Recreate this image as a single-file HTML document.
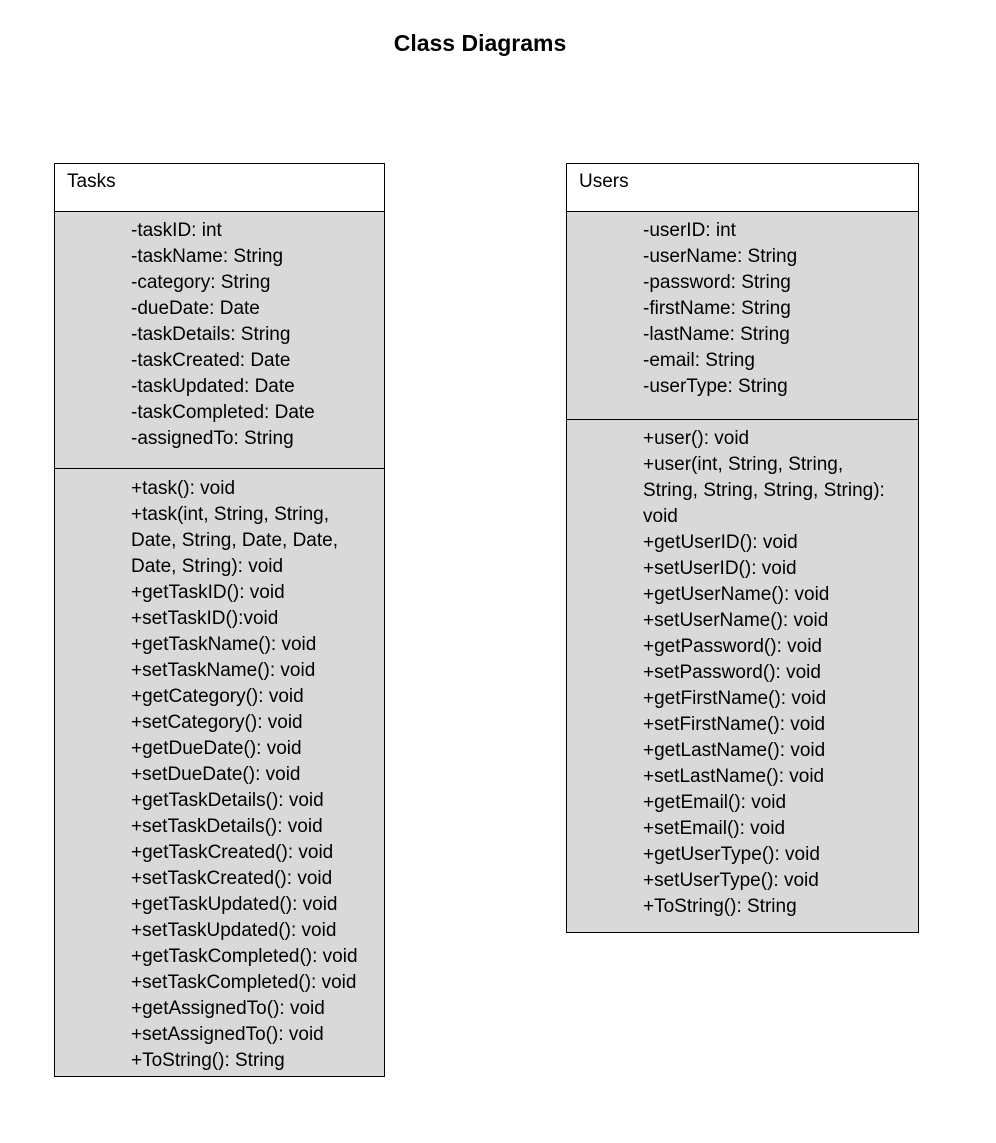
<!DOCTYPE html>
<html><head><meta charset="utf-8"><style>
body{margin:0;width:996px;height:1143px;background:#fff;position:relative;font-family:"Liberation Sans",sans-serif;overflow:hidden}
.t{position:absolute;left:0;width:960px;text-align:center;top:30px;font-weight:bold;font-size:23px;color:#000}
.box{position:absolute;border:1px solid #000;box-sizing:border-box;background:#fff}
.sec{position:absolute;left:0;right:0;background:#d9d9d9;box-sizing:border-box;overflow:hidden}
.hd{position:absolute;font-size:19px;color:#000}
.lines{position:absolute;font-size:19px;line-height:26px;color:#000;white-space:pre}
</style></head><body>
<div class="t">Class Diagrams</div>

<div class="box" style="left:54px;top:163px;width:331px;height:914px">
<div class="hd" style="left:12px;top:7px">Tasks</div>
<div class="sec" style="top:47px;height:258px;border-top:1px solid #000;border-bottom:1px solid #000">
<div class="lines" style="left:76px;top:6px">-taskID: int
-taskName: String
-category: String
-dueDate: Date
-taskDetails: String
-taskCreated: Date
-taskUpdated: Date
-taskCompleted: Date
-assignedTo: String</div></div>
<div class="sec" style="top:305px;bottom:0">
<div class="lines" style="left:76px;top:7px">+task(): void
+task(int, String, String,
Date, String, Date, Date,
Date, String): void
+getTaskID(): void
+setTaskID():void
+getTaskName(): void
+setTaskName(): void
+getCategory(): void
+setCategory(): void
+getDueDate(): void
+setDueDate(): void
+getTaskDetails(): void
+setTaskDetails(): void
+getTaskCreated(): void
+setTaskCreated(): void
+getTaskUpdated(): void
+setTaskUpdated(): void
+getTaskCompleted(): void
+setTaskCompleted(): void
+getAssignedTo(): void
+setAssignedTo(): void
+ToString(): String</div></div>
</div>

<div class="box" style="left:566px;top:163px;width:353px;height:770px">
<div class="hd" style="left:12px;top:7px">Users</div>
<div class="sec" style="top:47px;height:209px;border-top:1px solid #000;border-bottom:1px solid #000">
<div class="lines" style="left:76px;top:6px">-userID: int
-userName: String
-password: String
-firstName: String
-lastName: String
-email: String
-userType: String</div></div>
<div class="sec" style="top:256px;bottom:0">
<div class="lines" style="left:76px;top:6px">+user(): void
+user(int, String, String,
String, String, String, String):
void
+getUserID(): void
+setUserID(): void
+getUserName(): void
+setUserName(): void
+getPassword(): void
+setPassword(): void
+getFirstName(): void
+setFirstName(): void
+getLastName(): void
+setLastName(): void
+getEmail(): void
+setEmail(): void
+getUserType(): void
+setUserType(): void
+ToString(): String</div></div>
</div>
</body></html>
